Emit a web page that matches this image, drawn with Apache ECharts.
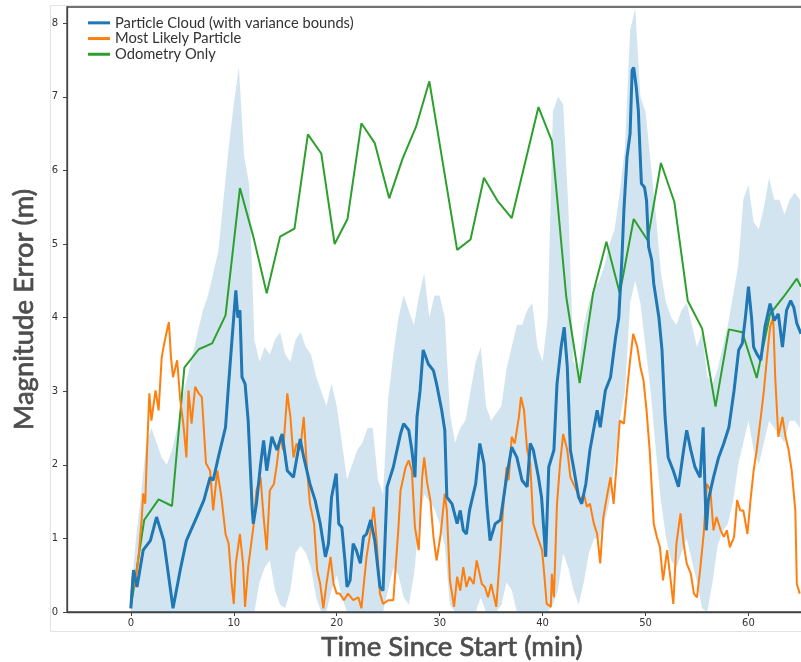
<!DOCTYPE html>
<html>
<head>
<meta charset="utf-8">
<script src="https://cdn.jsdelivr.net/npm/echarts@6/dist/echarts.min.js"></script>
<style>
  html, body { margin: 0; padding: 0; background: #fff; }
  #main { width: 801px; height: 662px; }
</style>
</head>
<body>
<div id="main"></div>
<script>
// time (min) and error (m)
const blueT = [0, 0.26, 0.6, 1.2, 1.9, 2.5, 3.2, 4.1, 4.8, 5.4, 6.4, 7.1, 7.7, 8.0, 8.5, 9.2, 9.5, 9.8, 10.2, 10.4,
  10.6, 10.8, 11.1, 11.4, 11.8, 11.9, 12.2, 12.6, 12.9, 13.2, 13.7, 14.2, 14.7, 15.2, 15.8, 16.45, 16.8, 17.4, 17.9, 18.4,
  18.9, 19.2, 19.5, 19.95, 20.2, 20.5, 20.8, 21.0, 21.3, 21.6, 21.9, 22.3, 22.6, 22.9, 23.3, 23.7, 24.2, 24.5, 24.9, 25.5,
  26.2, 26.5, 27.0, 27.3, 27.6, 27.8, 28.1, 28.4, 28.9, 29.4, 29.7, 30.2, 30.5, 30.7, 31.2, 31.7, 32.0, 32.3, 32.6, 32.9,
  33.5, 33.9, 34.3, 34.6, 34.9, 35.4, 35.9, 36.5, 37.0, 37.5, 38.0, 38.5, 38.8, 39.1, 39.6, 39.9, 40.3, 40.6, 41.1, 41.4,
  41.8, 42.1, 42.4, 42.7, 43.0, 43.5, 43.8, 44.2, 44.6, 45.3, 45.6, 46.1, 46.6, 47.1, 47.4, 47.7, 47.9, 48.2, 48.5, 48.7,
  48.85, 49.1, 49.3, 49.5, 49.6, 49.9, 50.1, 50.3, 50.6, 50.8, 51.3, 51.6, 51.9, 52.2, 52.7, 53.2, 53.7, 54.0, 54.4, 54.8,
  55.3, 55.6, 55.9, 56.1, 56.6, 57.1, 57.6, 58.1, 58.6, 59.05, 59.4, 59.7, 60.0, 60.3, 60.5, 60.8, 61.2, 61.6, 62.1, 62.5,
  62.9, 63.3, 63.7, 64.1, 64.4, 64.7, 65.1];
const blueV = [0.05, 0.57, 0.34, 0.84, 0.97, 1.29, 0.97, 0.05, 0.57, 0.97, 1.29, 1.52, 1.83, 1.79, 2.1, 2.51, 3.1, 3.65, 4.37, 4.0,
  4.1, 3.19, 3.1, 2.6, 1.38, 1.2, 1.47, 2.0, 2.33, 1.92, 2.38, 2.2, 2.42, 1.92, 1.83, 2.35, 2.1, 1.74, 1.52, 1.2,
  0.75, 0.93, 1.56, 1.88, 1.2, 1.15, 0.7, 0.34, 0.43, 0.93, 0.84, 0.66, 1.02, 1.06, 1.25, 0.97, 0.34, 0.29, 1.7, 1.97,
  2.42, 2.56, 2.47, 2.2, 1.83, 2.65, 3.01, 3.56, 3.37, 3.28, 3.1, 2.74, 2.47, 1.56, 1.47, 1.2, 1.38, 1.11, 1.06, 1.38,
  1.74, 2.29, 2.02, 1.43, 0.97, 1.2, 1.25, 1.83, 2.24, 2.1, 1.79, 1.7, 2.29, 2.2, 1.83, 1.56, 0.75, 1.97, 2.2, 3.1,
  3.6, 3.87, 3.33, 2.2, 1.97, 1.56, 1.47, 1.74, 2.2, 2.74, 2.51, 3.01, 3.19, 3.74, 4.0, 4.78, 5.46, 6.18, 6.5, 7.36,
  7.4, 7.13, 6.82, 6.14, 5.82, 5.77, 5.59, 4.96, 4.78, 4.46, 4.0, 3.56, 2.65, 2.1, 1.92, 1.7, 2.2, 2.47, 2.2, 1.97,
  1.83, 2.51, 1.11, 1.52, 1.83, 2.1, 2.29, 2.51, 3.01, 3.56, 3.65, 4.0, 4.42, 4.0, 3.6, 3.51, 3.42, 3.87, 4.19, 3.96,
  4.05, 3.6, 4.1, 4.23, 4.14, 3.92, 3.78];

const orangeT = [0, 0.16, 0.4, 0.75, 1.07, 1.2, 1.4, 1.55, 1.8, 2.0, 2.4, 2.7, 3.0, 3.3, 3.7, 3.9, 4.1, 4.5, 4.8, 5.1,
  5.4, 5.6, 5.9, 6.25, 6.6, 6.9, 7.3, 7.7, 8.0, 8.4, 8.8, 9.2, 9.5, 9.8, 10.0, 10.2, 10.6, 10.9, 11.1, 11.4,
  11.9, 12.2, 12.6, 12.9, 13.2, 13.5, 13.9, 14.2, 14.5, 14.8, 15.2, 15.5, 15.8, 16.1, 16.45, 16.8, 17.1, 17.4, 17.8, 18.1,
  18.4, 18.7, 19.0, 19.4, 19.7, 20.0, 20.3, 20.7, 21.1, 21.6, 22.1, 22.4, 22.9, 23.3, 23.6, 23.9, 24.2, 24.5, 25.0, 25.5,
  26.0, 26.2, 26.7, 27.0, 27.3, 27.6, 27.97, 28.3, 28.5, 28.8, 29.1, 29.4, 29.7, 30.1, 30.5, 30.7, 31.0, 31.4, 31.7, 32.0,
  32.3, 32.6, 32.9, 33.3, 33.6, 34.1, 34.4, 34.7, 35.0, 35.5, 35.9, 36.2, 36.5, 36.7, 37.0, 37.3, 37.7, 37.9, 38.2, 38.5,
  38.8, 39.1, 39.5, 39.95, 40.1, 40.4, 40.8, 40.9, 41.1, 41.4, 41.7, 42.0, 42.4, 42.7, 43.0, 43.3, 43.7, 44.0, 44.3, 44.6,
  44.98, 45.3, 45.6, 45.9, 46.3, 46.6, 46.9, 47.2, 47.5, 47.9, 48.2, 48.5, 48.8, 49.2, 49.5, 49.8, 50.1, 50.4, 50.8, 51.1,
  51.4, 51.7, 52.1, 52.4, 52.7, 53.0, 53.4, 53.7, 54.0, 54.4, 54.7, 55.0, 55.3, 55.65, 55.96, 56.3, 56.6, 56.9, 57.3, 57.6,
  57.9, 58.2, 58.6, 58.9, 59.2, 59.5, 59.9, 60.2, 60.5, 60.8, 61.2, 61.5, 61.8, 62.1, 62.4, 62.6, 62.9, 63.3, 63.6, 63.9,
  64.2, 64.55, 64.7, 64.98];
const orangeV = [0.05, 0.48, 0.34, 0.75, 1.29, 1.61, 1.47, 2.1, 2.97, 2.6, 3.01, 2.74, 3.46, 3.69, 3.94, 3.46, 3.19, 3.42, 2.88, 2.56,
  2.1, 3.01, 2.56, 3.06, 2.97, 2.92, 2.02, 1.92, 1.38, 1.92, 1.56, 1.06, 0.93, 0.38, 0.11, 0.66, 1.06, 0.66, 0.07, 0.61,
  1.15, 1.65, 1.83, 1.29, 0.84, 1.65, 1.74, 2.02, 2.38, 2.2, 2.97, 2.65, 2.1, 2.29, 2.2, 2.65, 1.97, 1.47, 1.2, 0.57,
  0.38, 0.05, 0.38, 0.75, 0.38, 0.25, 0.25, 0.16, 0.25, 0.16, 0.2, 0.05, 0.75, 1.11, 1.43, 0.93, 0.25, 0.11, 0.16, 0.16,
  1.15, 1.65, 1.97, 2.06, 1.92, 1.15, 0.84, 1.83, 2.1, 1.74, 1.52, 1.02, 0.7, 1.06, 1.61, 1.38, 0.43, 0.07, 0.48, 0.29,
  0.61, 0.34, 0.48, 0.38, 0.7, 0.38, 0.34, 0.2, 0.38, 0.07, 0.84, 1.47, 1.97, 1.79, 2.38, 2.29, 2.65, 2.92, 2.74, 2.2,
  2.02, 1.2, 1.02, 0.84, 0.61, 0.11, 0.07, 0.52, 0.2, 1.47, 2.02, 2.42, 2.2, 1.83, 1.74, 1.65, 1.52, 1.61, 1.43, 1.47,
  1.2, 1.06, 0.66, 1.29, 1.61, 1.83, 1.47, 2.02, 2.6, 2.56, 3.01, 3.42, 3.78, 3.6, 3.33, 3.15, 2.74, 2.2, 1.2, 1.02,
  0.88, 0.43, 0.84, 0.48, 0.11, 0.93, 1.34, 0.93, 0.66, 0.52, 0.25, 0.2, 0.57, 1.06, 1.74, 1.65, 1.11, 1.29, 1.11, 1.02,
  1.11, 0.88, 1.02, 1.52, 1.38, 1.38, 1.06, 1.52, 1.92, 2.2, 2.65, 3.01, 3.46, 3.87, 4.0, 3.19, 2.38, 2.65, 2.38, 2.2,
  1.92, 1.38, 0.38, 0.25];

const greenT = [0, 1.3, 2.7, 4.0, 5.2, 6.6, 7.9, 9.2, 10.6, 11.9, 13.2, 14.5, 15.9, 17.2, 18.5, 19.8, 21.05, 22.4, 23.7, 25.1,
  26.4, 27.7, 29.0, 31.7, 33.0, 34.3, 35.6, 37.0, 39.6, 40.9, 42.3, 43.6, 44.9, 46.2, 47.5, 48.85, 50.2, 51.5, 52.8, 54.1,
  55.5, 56.8, 58.1, 59.4, 60.8, 62.1, 63.4, 64.7, 65.1];
const greenV = [0.06, 1.25, 1.53, 1.44, 3.32, 3.57, 3.65, 4.03, 5.76, 5.1, 4.33, 5.1, 5.21, 6.49, 6.23, 5.0, 5.34, 6.64, 6.37, 5.62,
  6.16, 6.59, 7.21, 4.92, 5.06, 5.9, 5.59, 5.35, 6.86, 6.4, 4.28, 3.11, 4.33, 5.03, 4.33, 5.34, 5.05, 6.1, 5.57, 4.23,
  3.85, 2.79, 3.84, 3.8, 3.18, 4.05, 4.28, 4.53, 4.42];

// variance bounds of the particle cloud, every half minute
const bandT = [0, 0.5, 1, 1.5, 2, 2.5, 3, 3.5, 4, 4.5,
  5, 5.5, 6, 6.5, 7, 7.5, 8, 8.5, 9, 9.5,
  10, 10.5, 11, 11.5, 12, 12.5, 13, 13.5, 14, 14.5,
  15, 15.5, 16, 16.5, 17, 17.5, 18, 18.5, 19, 19.5,
  20, 20.5, 21, 21.5, 22, 22.5, 23, 23.5, 24, 24.5,
  25, 25.5, 26, 26.5, 27, 27.5, 28, 28.5, 29, 29.5,
  30, 30.5, 31, 31.5, 32, 32.5, 33, 33.5, 34, 34.5,
  35, 35.5, 36, 36.5, 37, 37.5, 38, 38.5, 39, 39.5,
  40, 40.5, 41, 41.5, 42, 42.5, 43, 43.5, 44, 44.5,
  45, 45.5, 46, 46.5, 47, 47.5, 48, 48.5, 49, 49.5,
  50, 50.5, 51, 51.5, 52, 52.5, 53, 53.5, 54, 54.5,
  55, 55.5, 56, 56.5, 57, 57.5, 58, 58.5, 59, 59.5,
  60, 60.5, 61, 61.5, 62, 62.5, 63, 63.5, 64, 64.5,
  65];
const bandHigh = [0.2, 1.0, 1.6, 2.3, 2.5, 2.3, 2.1, 2.0, 2.2, 2.5,
  2.9, 3.2, 3.5, 3.8, 4.1, 4.3, 4.6, 4.9, 5.6, 6.3,
  6.9, 7.4, 6.2, 5.8, 3.7, 3.4, 3.6, 3.5, 3.7, 3.8,
  3.5, 3.4, 3.7, 3.8, 3.6, 3.5, 3.2, 3.0, 2.8, 3.1,
  2.8, 2.3, 1.8, 2.0, 2.2, 2.3, 2.5, 2.5, 1.8, 1.6,
  2.9, 3.5, 4.0, 4.3, 4.1, 3.9, 4.3, 4.6, 4.0, 4.3,
  4.3, 4.0, 2.7, 2.3, 2.5, 2.6, 3.0, 3.4, 3.6, 2.8,
  2.6, 2.7, 2.8, 3.3, 3.6, 3.9, 3.9, 4.1, 4.2, 3.6,
  3.4, 4.0, 6.8, 7.0, 6.9, 5.5, 3.4, 3.3, 3.9, 4.2,
  4.4, 4.5, 4.7, 5.0, 5.2, 5.7, 6.3, 7.9, 8.2, 7.0,
  6.8, 6.1, 5.4, 4.6, 4.2, 4.0, 3.9, 4.1, 4.2, 3.9,
  3.6, 3.8, 3.2, 3.1, 3.3, 3.6, 3.9, 4.3, 4.7, 5.6,
  5.8, 5.3, 5.2, 5.5, 5.9, 5.6, 5.6, 5.4, 5.6, 5.7,
  5.6];
const bandLow = [0, 0, 0, 0, 0, 0, 0, 0, 0, 0,
  0, 0, 0, 0, 0, 0, 0, 0, 0, 0,
  0, 0, 0, 0, 0, 0.4, 0.6, 0.7, 0.3, 0.1,
  0.05, 0.3, 0.8, 0.9, 0.8, 0.6, 0.2, 0, 0, 0.3,
  0.5, 0.2, 0, 0, 0, 0, 0, 0, 0, 0,
  0.3, 0.6, 0.5, 0.2, 0.1, 0.5, 1.2, 1.6, 1.5, 1.4,
  1.2, 0.9, 0.1, 0, 0, 0, 0, 0, 0.2, 0,
  0, 0, 0.1, 0.4, 0.3, 0, 0, 0, 0, 0,
  0, 0, 0.1, 0.3, 0.8, 0.6, 0.3, 0.1, 0.4, 0.8,
  1.0, 1.0, 1.2, 1.5, 2.0, 2.6, 3.0, 4.2, 4.5, 4.2,
  3.6, 3.0, 2.2, 1.5, 1.0, 0.7, 0.6, 0.8, 1.0, 0.7,
  0.4, 0.05, 0, 0.4, 0.9, 1.1, 1.2, 1.5, 2.0, 2.3,
  2.6, 2.2, 2.0, 2.3, 2.6, 2.5, 2.4, 2.3, 2.6, 2.6,
  2.5];

const xTicks = [0, 10, 20, 30, 40, 50, 60];
const yTicks = [0, 1, 2, 3, 4, 5, 6, 7, 8];

const zip = (xs, ys) => xs.map((x, i) => [x, ys[i]]);

var chartDom = document.getElementById('main');
var myChart = echarts.init(chartDom);

var titleFont = {
  fontFamily: 'Lato', fontSize: 27.5, color: '#4d4d4d',
  textBorderColor: '#4d4d4d', textBorderWidth: 0.7
};
var tickFont = { fontFamily: 'DejaVu Sans', fontSize: 10, color: '#333' };

var option = {
  animation: false,
  backgroundColor: '#fff',
  graphic: [
    {
      type: 'rect',
      silent: true,
      z: -1,
      shape: { x: 50.5, y: 5.5, width: 800, height: 626 },
      style: { fill: 'none', stroke: '#e3e3e3', lineWidth: 1 }
    }
  ],
  // the axes run on past the right edge of the picture
  grid: {
    left: 67, top: 7, width: 770, bottom: 50,
    outerBoundsMode: 'none',
    containLabel: false,
    show: true, borderColor: '#444', borderWidth: 1.3
  },
  legend: {
    orient: 'vertical',
    left: 88, top: 15, padding: 0,
    itemWidth: 22, itemHeight: 3, itemGap: 0,
    icon: 'rect',
    data: ['Particle Cloud (with variance bounds)', 'Most Likely Particle', 'Odometry Only'],
    textStyle: { fontFamily: 'Lato', fontSize: 14.7, color: '#333', lineHeight: 15.7 }
  },
  xAxis: {
    type: 'value',
    min: -6.2, max: 68.6,
    name: 'Time Since Start (min)',
    nameLocation: 'middle',
    nameGap: 16,
    nameTextStyle: titleFont,
    splitLine: { show: false },
    axisLine: { lineStyle: { color: '#444', width: 1.3 } },
    axisTick: { customValues: xTicks, length: 4, lineStyle: { color: '#444' } },
    axisLabel: Object.assign({ customValues: xTicks, margin: 6 }, tickFont)
  },
  yAxis: {
    type: 'value',
    min: 0, max: 8.22,
    name: 'Magnitude Error (m)',
    nameLocation: 'middle',
    nameGap: 29,
    nameRotate: 90,
    nameTextStyle: titleFont,
    splitLine: { show: false },
    axisLine: { show: true, onZero: false, lineStyle: { color: '#444', width: 1.3 } },
    axisTick: { show: true, customValues: yTicks, length: 4, lineStyle: { color: '#444' } },
    axisLabel: Object.assign({ customValues: yTicks, margin: 9 }, tickFont)
  },
  series: [
    {
      name: 'band',
      type: 'custom',
      silent: true,
      z: 1,
      data: [[0, 0]],
      renderItem: function (params, api) {
        var pts = [];
        for (var i = 0; i < bandT.length; i++) pts.push(api.coord([bandT[i], bandHigh[i]]));
        for (var j = bandT.length - 1; j >= 0; j--) pts.push(api.coord([bandT[j], bandLow[j]]));
        return {
          type: 'polygon',
          shape: { points: pts },
          style: { fill: 'rgba(31,119,180,0.2)' }
        };
      }
    },
    {
      name: 'Odometry Only',
      type: 'line',
      z: 2,
      showSymbol: false,
      color: '#2ca02c',
      lineStyle: { width: 2, color: '#2ca02c' },
      data: zip(greenT, greenV)
    },
    {
      name: 'Most Likely Particle',
      type: 'line',
      z: 3,
      showSymbol: false,
      color: '#ff7f0e',
      lineStyle: { width: 2, color: '#ff7f0e' },
      data: zip(orangeT, orangeV)
    },
    {
      name: 'Particle Cloud (with variance bounds)',
      type: 'line',
      z: 4,
      showSymbol: false,
      color: '#1f77b4',
      lineStyle: { width: 3, color: '#1f77b4' },
      data: zip(blueT, blueV)
    }
  ]
};

option && myChart.setOption(option);
</script>
</body>
</html>
